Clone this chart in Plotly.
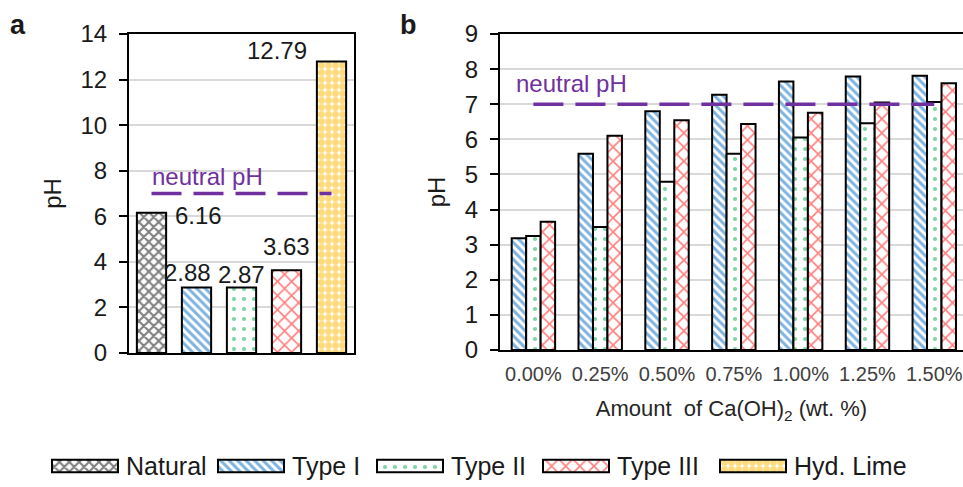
import plotly.graph_objects as go

# ---- data ----
types_a = ["Natural", "Type I", "Type II", "Type III", "Hyd. Lime"]
ph_a = [6.16, 2.88, 2.87, 3.63, 12.79]
labels_a = ["6.16", "2.88", "2.87", "3.63", "12.79"]

amounts = ["0.00%", "0.25%", "0.50%", "0.75%", "1.00%", "1.25%", "1.50%"]
ph_type1 = [3.18, 5.59, 6.80, 7.27, 7.65, 7.79, 7.81]
ph_type2 = [3.25, 3.50, 4.79, 5.59, 6.05, 6.46, 7.06]
ph_type3 = [3.65, 6.10, 6.54, 6.44, 6.76, 7.05, 7.60]

neutral_ph = 7

# ---- styles ----
FONT = "Liberation Sans, Arial, sans-serif"
TXT = "#1a1a1a"
styles = {
    "Natural": dict(shape="x", fg="#000000", size=7, sol=0.5),
    "Type I": dict(shape="\\", fg="#0068C0", size=6, sol=0.5),
    "Type II": dict(shape=".", fg="#00A84A", size=10, sol=0.14),
    "Type III": dict(shape="x", fg="#FF0000", size=10, sol=0.3),
    "Hyd. Lime": dict(shape=".", fg="#FFB800", size=7, sol=0.75),
}

def marker(name):
    s = styles[name]
    return dict(color="white",
                line=dict(color="black", width=2),
                pattern=dict(shape=s["shape"], fgcolor=s["fg"], bgcolor="white",
                             size=s["size"], solidity=s["sol"], fillmode="overlay"))

W, H = 963, 487
def px_x(p): return p / W
def px_y(p): return 1 - p / H

fig = go.Figure()

# panel a bars
for name, v in zip(types_a, ph_a):
    fig.add_trace(go.Bar(x=[name], y=[v], name=name, marker=marker(name),
                         offsetgroup="a", showlegend=False,
                         xaxis="x", yaxis="y"))

# panel b bars
for name, vals in zip(["Type I", "Type II", "Type III"], [ph_type1, ph_type2, ph_type3]):
    fig.add_trace(go.Bar(x=amounts, y=vals, name=name, marker=marker(name),
                         offsetgroup=name, showlegend=False,
                         xaxis="x2", yaxis="y2"))

# neutral pH lines
purple = "#7030A0"
fig.add_trace(go.Scatter(x=[types_a[0], types_a[-1]], y=[neutral_ph, neutral_ph], mode="lines",
                         line=dict(color=purple, width=3.5, dash="30px,12px"),
                         showlegend=False, hoverinfo="skip", xaxis="x", yaxis="y"))
fig.add_trace(go.Scatter(x=[amounts[0], amounts[-1]], y=[neutral_ph, neutral_ph], mode="lines",
                         line=dict(color=purple, width=3.5, dash="30px,12px"),
                         showlegend=False, hoverinfo="skip", xaxis="x2", yaxis="y2"))

annotations = []
# value labels panel a
shifts = [(47, -3), (-9, 15), (0, 13), (0, 24), (-55, 11)]
for name, v, lab, (dx, dy) in zip(types_a, ph_a, labels_a, shifts):
    annotations.append(dict(x=name, y=v, xref="x", yref="y", text=lab, showarrow=False,
                            xshift=dx, yshift=dy, font=dict(size=24, color=TXT, family=FONT)))
annotations.append(dict(x=types_a[0], y=neutral_ph, xref="x", yref="y", text="neutral pH",
                        showarrow=False, xanchor="left", xshift=-2, yshift=17,
                        font=dict(size=24, color=purple, family=FONT)))
annotations.append(dict(x=amounts[0], y=neutral_ph, xref="x2", yref="y2", text="neutral pH",
                        showarrow=False, xanchor="left", xshift=-19, yshift=21,
                        font=dict(size=24, color=purple, family=FONT)))
# panel letters
annotations.append(dict(x=px_x(8), y=px_y(25), xref="paper", yref="paper", text="<b>a</b>",
                        showarrow=False, xanchor="left", yanchor="middle",
                        font=dict(size=27, color=TXT, family=FONT)))
annotations.append(dict(x=px_x(398), y=px_y(25), xref="paper", yref="paper", text="<b>b</b>",
                        showarrow=False, xanchor="left", yanchor="middle",
                        font=dict(size=27, color=TXT, family=FONT)))

# ---- custom legend with wide swatches (layout in pixel units on a hidden axis) ----
legend_swatch_start = [52, 218, 377, 543, 720]
SW = 66
for name, x0 in zip(types_a, legend_swatch_start):
    fig.add_trace(go.Bar(y=[0], x=[SW], base=[x0], orientation="h", width=[0.9],
                         marker=marker(name), showlegend=False, hoverinfo="skip",
                         offsetgroup="leg", xaxis="x3", yaxis="y3"))
    annotations.append(dict(x=x0 + SW + 6, y=0, xref="x3", yref="y3", text=name,
                            showarrow=False, xanchor="left", yanchor="middle",
                            font=dict(size=25, color=TXT, family=FONT)))

yaxis_common = dict(showline=True, linecolor="black", linewidth=2, mirror=True,
                    ticks="outside", ticklen=8, tickwidth=2, tickcolor="black",
                    ticklabelstandoff=7,
                    showgrid=True, gridcolor="#d9d9d9", gridwidth=1.5,
                    tickfont=dict(size=24, color=TXT, family=FONT),
                    title=dict(text="pH", font=dict(size=24, color=TXT, family=FONT), standoff=12),
                    zeroline=False)

fig.update_layout(
    width=W, height=H,
    margin=dict(l=0, r=0, t=0, b=0, autoexpand=False),
    paper_bgcolor="white", plot_bgcolor="white",
    barmode="group", bargap=0.35, bargroupgap=0,
    font=dict(family=FONT, color=TXT),
    xaxis=dict(domain=[px_x(129), px_x(354)], anchor="y", showticklabels=False, ticks="",
               showline=True, linecolor="black", linewidth=2, mirror=True,
               range=[-0.5, 4.5], type="category"),
    yaxis=dict(domain=[px_y(353), px_y(34)], anchor="x", range=[0, 14], dtick=2, **yaxis_common),
    xaxis2=dict(domain=[px_x(500), 1.0], anchor="y2", type="category", range=[-0.5, 6.43],
                showline=True, linecolor="black", linewidth=2, mirror=True, ticks="",
                ticklabelstandoff=5,
                tickfont=dict(size=20, color="#404040", family=FONT),
                title=dict(text="Amount  of Ca(OH)<sub>2</sub> (wt. %)",
                           font=dict(size=22, color="#262626", family=FONT), standoff=17)),
    yaxis2=dict(domain=[px_y(350), px_y(34)], anchor="x2", range=[0, 9], dtick=1, **yaxis_common),
    xaxis3=dict(domain=[0, 1], anchor="y3", range=[0, W], visible=False, fixedrange=True),
    yaxis3=dict(domain=[px_y(480), px_y(452)], anchor="x3", range=[-1, 1], visible=False,
                fixedrange=True),
    annotations=annotations,
    showlegend=False,
)

fig.write_html("out.html")
